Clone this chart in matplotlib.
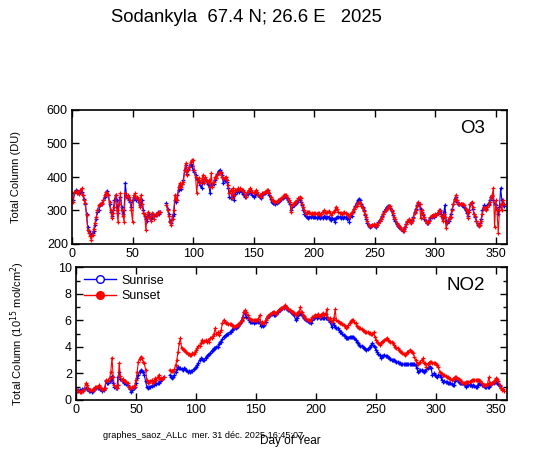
import numpy as np
import matplotlib
matplotlib.use("Agg")
import matplotlib.pyplot as plt
from matplotlib.lines import Line2D

nan = np.nan
days = np.arange(1, 358)

# ---------------- O3 (DU) ----------------
o3_sunset = [
    326, 355, 358, 352, 356, 350, 360, 366, 345, 331,
    321, 287, 242, 232, 225, 212, 226, 245, 262, 280,
    300, 315, 318, 320, 322, 330, 345, 355, 350, 346,
    326, 300, 277, 292, 310, 346, 300, 267, 320, 351,
    300, 285, 267, 351, 340, 346, 340, 330, 300, 267,
    345, 351, 336, 340, 330, 311, 346, 320, 292, 290,
    242, 280, 296, 280, 270, 292, 285, 275, 290, 288,
    292, 296, 295, nan, nan, nan, nan, 315, 301, 285,
    266, 258, 275, 300, 346, 335, 330, 370, 381, 371,
    380, 386, 421, 441, 405, 420, 430, 445, 451, 451,
    421, 401, 353, 390, 396, 381, 390, 406, 381, 401,
    390, 386, 390, 371, 411, 371, 386, 400, 396, 406,
    412, 416, 411, 400, 396, 396, 401, 390, 376, 351,
    361, 336, 366, 346, 361, 361, 366, 361, 366, 361,
    361, 356, 346, 341, 356, 361, 366, 361, 356, 351,
    356, 361, 356, 346, 346, 341, 351, 351, 356, 356,
    361, 361, 351, 340, 331, 331, 326, 326, 326, 330,
    331, 333, 336, 340, 346, 346, 346, 336, 330, 326,
    296, 316, 320, 326, 326, 330, 336, 341, 336, 320,
    311, 301, 291, 295, 296, 296, 291, 292, 291, 292,
    292, 290, 294, 292, 288, 290, 296, 300, 296, 292,
    296, 298, 292, 288, 292, 296, 300, 311, 305, 296,
    292, 294, 290, 292, 296, 292, 290, 286, 280, 289,
    292, 299, 305, 310, 314, 322, 326, 322, 314, 306,
    299, 290, 280, 269, 256, 254, 254, 256, 259, 256,
    254, 256, 262, 268, 274, 280, 289, 295, 300, 304,
    309, 314, 312, 300, 292, 280, 274, 264, 258, 254,
    250, 245, 242, 239, 250, 259, 268, 274, 266, 262,
    270, 279, 292, 300, 314, 326, 320, 277, 300, 290,
    280, 270, 263, 265, 270, 280, 285, 288, 285, 290,
    288, 292, 300, 298, 285, 270, 290, 280, 248, 265,
    275, 281, 281, 300, 320, 330, 346, 330, 322, 320,
    320, 320, 318, 316, 305, 300, 279, 295, 320, 326,
    310, 291, 285, 270, 260, 254, 258, 270, 290, 311,
    305, 300, 311, 315, 325, 340, 346, 367, 250, 330,
    300, 234, 300, 320, 300, 330, 320,
]
o3_sunrise = [
    330, 352, 360, 358, 355, 352, 357, 355, 345, 335,
    318, 290, 250, 238, 232, 228, 232, 240, 258, 275,
    295, 300, 315, 318, 320, 330, 340, 350, 359, 346,
    320, 296, 285, 300, 330, 346, 330, 292, 330, 340,
    310, 290, 300, 383, 346, 336, 330, 326, 310, 330,
    340, 336, 330, 338, 325, 316, 320, 330, 300, 285,
    275, 270, 285, 290, 275, 280, 290, 285, 286, 290,
    295, 290, 296, nan, nan, nan, nan, 323, 305, 290,
    270, 262, 285, 290, 330, 325, 345, 360, 375, 365,
    380, 392, 420, 436, 410, 425, 430, 440, 432, 420,
    415, 405, 395, 390, 385, 375, 366, 385, 390, 395,
    392, 380, 375, 351, 380, 375, 380, 390, 396, 410,
    418, 420, 415, 405, 381, 390, 395, 385, 366, 340,
    336, 341, 345, 331, 350, 355, 360, 356, 360, 355,
    350, 346, 341, 345, 350, 355, 358, 352, 345, 341,
    346, 352, 350, 345, 340, 338, 346, 350, 352, 355,
    358, 355, 345, 335, 325, 321, 321, 318, 322, 326,
    328, 330, 334, 338, 341, 344, 340, 332, 325, 320,
    301, 310, 316, 320, 322, 326, 330, 332, 326, 315,
    300, 291, 283, 281, 279, 281, 281, 283, 281, 280,
    281, 279, 281, 282, 279, 281, 278, 283, 281, 279,
    281, 282, 276, 272, 278, 275, 267, 278, 281, 281,
    281, 279, 281, 278, 281, 280, 276, 281, 267, 280,
    285, 295, 305, 314, 322, 330, 335, 330, 320, 310,
    300, 288, 275, 262, 254, 252, 254, 257, 256, 253,
    252, 258, 265, 270, 276, 283, 290, 298, 305, 310,
    312, 314, 308, 298, 287, 276, 268, 260, 254, 250,
    247, 244, 240, 245, 252, 259, 266, 272, 270, 266,
    272, 282, 295, 305, 316, 322, 318, 305, 296, 286,
    276, 268, 262, 264, 272, 278, 282, 285, 282, 286,
    287, 292, 296, 300, 290, 278, 295, 316, 270, 262,
    270, 278, 290, 305, 318, 335, 340, 325, 318, 318,
    318, 316, 314, 310, 300, 292, 285, 300, 320, 322,
    305, 290, 280, 268, 258, 256, 262, 275, 300, 315,
    310, 305, 315, 320, 330, 341, 343, 330, 320, 315,
    305, 290, 310, 367, 330, 315, 312,
]

# ---------------- NO2 (1e15 mol/cm2) ----------------
no2_sunset = [
    0.75, 0.65, 0.63, 0.62, 0.65, 0.70, 0.85, 1.26, 1.10, 0.88,
    0.75, 0.72, 0.75, 0.78, 0.85, 0.95, 1.00, 1.00, 1.10, 0.95,
    0.88, 0.75, 0.80, 0.88, 1.50, 1.40, 1.50, 1.63, 2.13, 3.20,
    1.75, 1.10, 0.95, 0.88, 1.10, 2.76, 1.80, 1.50, 1.55, 1.40,
    1.40, 1.35, 1.26, 1.00, 0.90, 0.88, 0.95, 1.00, 1.10, 1.50,
    2.13, 2.90, 3.10, 3.27, 3.14, 2.90, 2.76, 2.26, 1.50, 1.26,
    1.35, 1.40, 1.50, 1.30, 1.45, 1.63, 1.50, 1.70, 1.90, 1.55,
    1.63, 1.55, 1.70, nan, nan, nan, nan, 2.26, 2.20, 2.20,
    2.20, 2.30, 2.60, 3.00, 3.60, 4.27, 4.65, 3.90, 3.85, 3.77,
    3.70, 3.60, 3.50, 3.45, 3.40, 3.40, 3.55, 3.50, 3.60, 3.75,
    3.90, 4.05, 4.10, 4.27, 4.52, 4.40, 4.45, 4.50, 4.40, 4.52,
    4.40, 4.65, 4.70, 4.80, 5.00, 5.40, 5.00, 5.10, 4.90, 5.10,
    5.27, 5.78, 6.03, 5.90, 5.78, 5.80, 5.75, 5.70, 5.73, 5.65,
    5.60, 5.53, 5.60, 5.65, 5.65, 5.75, 5.90, 5.95, 6.15, 6.65,
    6.78, 6.60, 6.40, 6.20, 6.10, 6.03, 6.00, 6.05, 6.00, 6.05,
    6.00, 6.10, 6.40, 5.83, 5.90, 5.80, 5.78, 6.00, 6.15, 6.30,
    6.40, 6.45, 6.55, 6.65, 6.60, 6.55, 6.50, 6.70, 6.78, 6.85,
    6.90, 6.95, 7.00, 7.15, 7.00, 6.90, 6.85, 6.78, 6.70, 6.65,
    6.65, 6.55, 6.40, 6.50, 6.65, 6.60, 7.00, 6.60, 6.40, 6.30,
    6.15, 6.10, 6.03, 6.00, 5.95, 6.10, 6.28, 6.30, 6.40, 6.35,
    6.40, 6.45, 6.28, 6.40, 6.45, 6.53, 6.40, 6.45, 6.83, 6.15,
    6.10, 6.15, 5.90, 6.00, 6.20, 6.83, 6.03, 5.95, 5.85, 5.78,
    5.80, 5.75, 5.65, 5.55, 5.40, 5.50, 5.65, 5.78, 5.95, 6.03,
    6.00, 5.90, 5.78, 5.55, 5.53, 5.45, 5.40, 5.35, 5.28, 5.20,
    5.15, 5.15, 5.10, 5.08, 5.05, 5.00, 5.00, 5.10, 4.77, 4.52,
    4.40, 4.30, 4.14, 4.30, 4.40, 4.45, 4.52, 4.60, 4.65, 4.55,
    4.45, 4.40, 4.35, 4.27, 4.15, 4.02, 3.95, 3.90, 3.80, 3.70,
    3.64, 3.55, 3.45, 3.39, 3.50, 3.60, 3.64, 3.77, 3.70, 3.60,
    3.52, 3.27, 3.00, 2.76, 2.75, 2.80, 2.90, 3.00, 3.14, 2.80,
    2.76, 2.51, 2.70, 2.80, 2.89, 2.85, 2.76, 2.78, 2.76, 2.70,
    2.60, 2.51, 2.14, 2.00, 1.95, 1.88, 1.85, 1.80, 1.76, 1.70,
    1.63, 1.58, 1.51, 1.55, 1.65, 1.70, 1.76, 1.60, 1.55, 1.51,
    1.40, 1.30, 1.26, 1.30, 1.35, 1.38, 1.38, 1.38, 1.45, 1.50,
    1.51, 1.50, 1.48, 1.50, 1.52, 1.50, 1.40, 1.25, 1.13, 1.15,
    1.13, 1.15, 1.20, 1.70, 1.25, 1.20, 1.30, 1.38, 1.50, 1.63,
    1.55, 1.40, 1.13, 0.88, 0.75, 0.80, 0.70,
]
no2_sunrise = [
    0.70, 0.72, 0.75, 0.70, 0.80, 0.75, 0.85, 0.90, 0.85, 0.80,
    0.70, 0.65, 0.63, 0.70, 0.85, 0.90, 0.90, 0.88, 0.90, 0.85,
    0.80, 0.70, 0.72, 0.90, 1.40, 1.26, 1.30, 1.40, 1.50, 1.80,
    1.26, 1.00, 0.90, 0.88, 1.75, 2.13, 1.60, 1.50, 1.40, 1.30,
    1.26, 1.20, 1.10, 0.95, 0.80, 0.63, 0.75, 0.88, 0.95, 1.26,
    1.63, 1.90, 2.13, 2.26, 2.20, 2.10, 1.88, 1.40, 1.00, 0.88,
    1.00, 1.00, 1.05, 1.10, 1.15, 1.26, 1.20, 1.26, 1.26, 1.40,
    1.50, 1.60, 1.75, nan, nan, nan, nan, 1.88, 1.75, 1.63,
    1.75, 1.88, 2.13, 2.30, 2.51, 2.40, 2.38, 2.30, 2.26, 2.38,
    2.35, 2.25, 2.13, 2.15, 2.13, 2.18, 2.20, 2.30, 2.38, 2.50,
    2.64, 2.80, 3.00, 3.14, 3.10, 3.00, 3.00, 3.20, 3.30, 3.39,
    3.45, 3.52, 3.70, 3.80, 3.90, 3.95, 4.00, 4.00, 4.20, 4.40,
    4.40, 4.60, 4.77, 4.85, 4.90, 5.00, 5.00, 5.10, 5.15, 5.25,
    5.35, 5.40, 5.45, 5.53, 5.60, 5.70, 5.78, 6.00, 6.28, 6.65,
    6.50, 6.28, 6.20, 6.00, 5.90, 5.90, 5.85, 5.83, 5.85, 5.90,
    5.95, 5.90, 5.80, 5.60, 5.65, 5.60, 5.65, 5.90, 6.15, 6.30,
    6.35, 6.40, 6.45, 6.55, 6.40, 6.40, 6.45, 6.60, 6.78, 6.80,
    6.85, 6.90, 6.95, 7.10, 7.00, 6.85, 6.78, 6.70, 6.65, 6.60,
    6.50, 6.40, 6.00, 6.20, 6.40, 6.50, 6.55, 6.40, 6.30, 6.20,
    6.10, 6.00, 5.95, 5.90, 5.85, 5.78, 6.00, 6.20, 6.25, 6.30,
    6.20, 6.25, 6.15, 6.20, 6.28, 6.20, 6.15, 6.20, 6.15, 6.10,
    6.00, 5.90, 5.53, 5.80, 5.65, 5.50, 5.45, 5.40, 5.25, 5.15,
    5.10, 5.00, 4.90, 4.80, 4.70, 4.65, 4.70, 4.77, 4.75, 4.77,
    4.77, 4.70, 4.55, 4.40, 4.30, 4.14, 4.10, 4.05, 4.02, 3.95,
    3.85, 3.77, 3.85, 3.90, 4.00, 4.14, 4.27, 4.10, 4.02, 3.77,
    3.60, 3.50, 3.39, 3.14, 3.30, 3.35, 3.39, 3.35, 3.30, 3.27,
    3.20, 3.10, 3.01, 3.00, 3.00, 2.95, 2.89, 2.85, 2.80, 2.76,
    2.72, 2.70, 2.70, 2.68, 2.70, 2.72, 2.70, 2.68, 2.70, 2.70,
    2.72, 2.70, 2.60, 2.40, 2.14, 2.20, 2.26, 2.26, 2.20, 2.14,
    2.20, 2.30, 2.39, 2.45, 2.51, 2.40, 1.88, 2.00, 1.90, 1.80,
    1.76, 1.85, 1.88, 1.70, 1.50, 1.38, 1.40, 1.38, 1.35, 1.30,
    1.26, 1.26, 1.20, 1.15, 1.13, 1.40, 1.63, 1.50, 1.35, 1.26,
    1.26, 1.25, 1.22, 1.15, 1.00, 1.10, 1.13, 1.15, 1.10, 1.05,
    1.10, 1.05, 1.00, 1.00, 1.15, 1.30, 1.20, 1.10, 1.10, 1.05,
    1.00, 1.00, 0.95, 1.00, 1.10, 1.20, 1.26, 1.30, 1.35, 1.40,
    1.30, 1.20, 1.05, 0.90, nan, nan, nan,
]

x_ticks = [0, 50, 100, 150, 200, 250, 300, 350]
o3_ticks = [200, 300, 400, 500, 600]
no2_ticks = [0, 2, 4, 6, 8, 10]

title = "Sodankyla  67.4 N; 26.6 E   2025"
footer = "graphes_saoz_ALLc  mer. 31 d\u00e9c. 2025 16:45:07"

plt.rcParams['font.family'] = ['Liberation Sans', 'DejaVu Sans']

W, H = 540, 453
fig = plt.figure(figsize=(W / 100, H / 100), dpi=100)

def frac(l, t, r, b):
    return [l / W, 1 - b / H, (r - l) / W, (b - t) / H]

ax1 = fig.add_axes(frac(72, 110, 506.7, 244))
ax2 = fig.add_axes(frac(76, 267.3, 506.7, 400))

BLUE = '#0000ff'
RED = '#ff0000'
style = dict(lw=0.8, marker='+', ms=3.5, mew=0.9)

ax1.plot(days, o3_sunrise, color=BLUE, **style)
ax1.plot(days, o3_sunset, color=RED, **style)
ax2.plot(days, no2_sunrise, color=BLUE, **style)
ax2.plot(days, no2_sunset, color=RED, **style)

for ax in (ax1, ax2):
    ax.set_xlim(0, 359)
    ax.set_xticks(x_ticks)
    ax.tick_params(direction='in', top=True, right=True, length=5, width=1,
                   labelsize=9, pad=3, colors='black')
    ax.tick_params(which='minor', direction='in', top=False, right=True, length=3, width=1)
    for s in ax.spines.values():
        s.set_linewidth(1.2)

ax1.set_ylim(200, 600)
ax1.set_yticks(o3_ticks)
ax2.set_ylim(0, 10)
ax2.set_yticks(no2_ticks)
ax2.set_yticks([1, 3, 5, 7, 9], minor=True)

ax1.text(0.95, 0.86, "O3", transform=ax1.transAxes, ha='right', va='center', fontsize=13.5)
ax2.text(0.95, 0.86, "NO2", transform=ax2.transAxes, ha='right', va='center', fontsize=13.5)

fig.text(16.5 / W, 1 - 177 / H, "Total Column (DU)", rotation=90, ha='center', va='center', fontsize=8)
fig.text(18 / W, 1 - 334 / H, r"Total Column (10$^{15}$ mol/cm$^{2}$)", rotation=90,
         ha='center', va='center', fontsize=8)

fig.text(246 / W, 1 - 22.3 / H, title, ha='center', va='baseline', fontsize=13.3)
fig.text(103 / W, 1 - 436 / H, footer, ha='left', va='center', fontsize=6.6)
fig.text(290 / W, 1 - 441 / H, "Day of Year", ha='center', va='center', fontsize=8.5)

handles = [
    Line2D([], [], color=BLUE, lw=1, marker='o', ms=5.5, mfc='white', mec=BLUE),
    Line2D([], [], color=RED, lw=1, marker='o', ms=5.5, mfc=RED, mec=RED),
]
ax2.legend(handles, ["Sunrise", "Sunset"], loc='upper left', frameon=False, fontsize=9,
           handlelength=2.6, handletextpad=0.4, labelspacing=0.25,
           borderaxespad=0.2, bbox_to_anchor=(0.0, 1.0))

fig.savefig("out.png", dpi=100)
